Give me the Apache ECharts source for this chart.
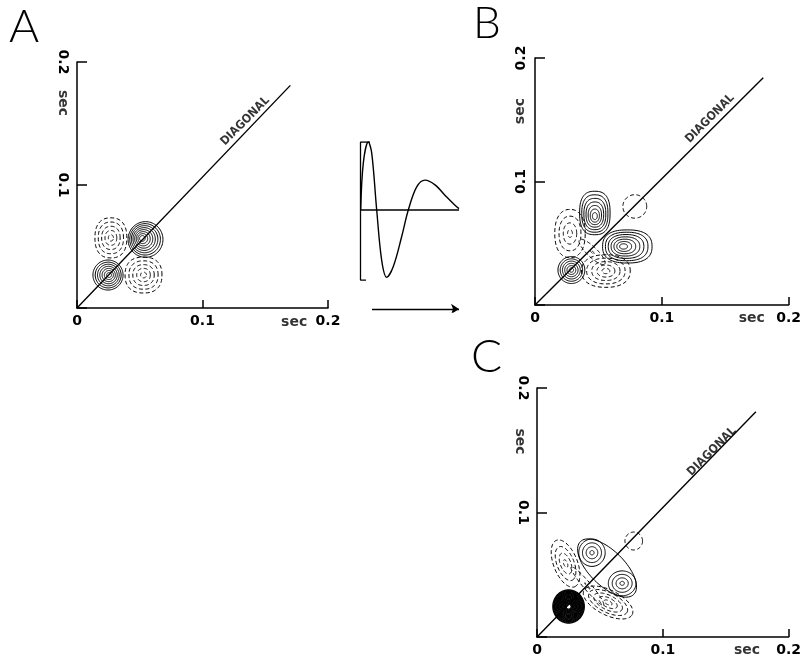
<!DOCTYPE html>
<html>
<head>
<meta charset="utf-8">
<script src="https://cdn.jsdelivr.net/npm/echarts@6/dist/echarts.min.js"></script>
<style>
  html, body { margin: 0; padding: 0; background: #fff; }
  #chart { width: 804px; height: 663px; }
</style>
</head>
<body>
<div id="chart"></div>
<script>
// tick values of the three kernel plots (sec)
const secTicks = [0, 0.1, 0.2];

// diagonal line of each panel
const diagonalA = [[0, 0], [0.170, 0.181]];
const diagonalB = [[0, 0], [0.180, 0.184]];
const diagonalC = [[0, 0], [0.174, 0.181]];

// contour blobs: cx, cy, rx, ry, rings, tilt(deg), shape exponent, inner dx, inner dy
const solidA = [
  [0.0546, 0.0557, 0.0139, 0.0145, 8, 0, 2, -0.003, 0.001],
  [0.0247, 0.0268, 0.0120, 0.0122, 7, 0, 2, 0.001, 0]
];
const dashedA = [
  [0.0270, 0.0570, 0.0127, 0.0163, 5, 0, 2.4, 0, 0],
  [0.0530, 0.0268, 0.0147, 0.0146, 5, 0, 2.4, 0, 0]
];
const solidB = [
  [0.0472, 0.0745, 0.0120, 0.0176, 7, 0, 2.6, 0, -0.003],
  [0.0728, 0.0474, 0.0195, 0.0134, 7, 0, 2.5, -0.0035, 0],
  [0.0287, 0.0283, 0.0106, 0.0109, 6, 0, 2, 0, 0]
];
const dashedB = [
  [0.0787, 0.0798, 0.0094, 0.0095, 1, 0, 2, 0, 0],
  [0.0276, 0.0579, 0.0120, 0.0195, 4, 0, 2.3, 0, 0],
  [0.0559, 0.0275, 0.0192, 0.0132, 5, 0, 2.3, 0, 0],
  [0.0450, 0.0430, 0.0140, 0.0040, 2, -45, 2, 0, 0]
];
const solidC = [
  [0.0557, 0.0554, 0.0300, 0.0140, 1, -45, 2, 0, 0],
  [0.0437, 0.0677, 0.0105, 0.0110, 4, 0, 2, 0, 0],
  [0.0677, 0.0431, 0.0110, 0.0100, 4, 0, 2, 0, 0]
];
const blackC = [
  [0.0251, 0.0245, 0.0125, 0.0133, 18, 0, 2, 0, 0]
];
const dashedC = [
  [0.0769, 0.0771, 0.0070, 0.0072, 1, 0, 2, 0, 0],
  [0.0227, 0.0590, 0.0200, 0.0095, 4, -69, 2, 0, 0],
  [0.0565, 0.0277, 0.0215, 0.0100, 5, -27, 2, 0, 0],
  [0.0400, 0.0410, 0.0200, 0.0030, 2, -50, 2, 0, 0]
];

// impulse response in the middle inset (arbitrary units)
const waveT = [5.7, 8.3, 13.3, 16.7, 21.7, 26.7, 31.7, 38.3, 46.7, 53.3, 61.7, 70, 80, 91.7, 100, 104];
const waveV = [0, 0.69, 1.0, 0.84, 0, -0.74, -0.99, -0.83, -0.39, 0, 0.34, 0.44, 0.37, 0.19, 0.07, 0.02];
const baseT = [5.5, 104];
const baseV = [0, 0];
const bracketT = [15, 5.5, 5.5, 11];
const bracketV = [1, 1, -1.03, -1.03];
const arrowT = [17, 104];
const arrowV = [-1.456, -1.456];

const ink = '#000';
const font = 'DejaVu Sans';

const zip = (a, b) => a.map((v, i) => [v, b[i]]);

function secAxisX(idx) {
  return {
    type: 'value', gridIndex: idx, min: 0, max: 0.2, interval: 0.1,
    axisLine: { lineStyle: { color: ink, width: 1.5 } },
    axisTick: { inside: true, length: 8, lineStyle: { color: ink, width: 1.5 } },
    splitLine: { show: false },
    axisLabel: {
      margin: 6, color: ink, fontSize: 14, fontFamily: font, fontWeight: 'bold',
      formatter: v => secTicks.indexOf(v) === 0 ? '0' : v.toFixed(1)
    }
  };
}

function secAxisY(idx, rot) {
  return {
    type: 'value', gridIndex: idx, min: 0, max: 0.2, interval: 0.1,
    axisLine: { lineStyle: { color: ink, width: 1.5 } },
    axisTick: { inside: true, length: 10, lineStyle: { color: ink, width: 1.5 } },
    splitLine: { show: false },
    axisLabel: {
      margin: 7, rotate: rot, color: ink, fontSize: 14, fontFamily: font, fontWeight: 'bold',
      formatter: v => v === 0 ? '' : v.toFixed(1)
    }
  };
}

function contours(blobs, idx, dashed, lw) {
  return {
    type: 'custom', xAxisIndex: idx, yAxisIndex: idx, silent: true,
    dimensions: ['cx', 'cy', 'rx', 'ry', 'n', 'tilt', 'p', 'dx', 'dy'],
    encode: { x: 0, y: 1 },
    data: blobs,
    renderItem: function (params, api) {
      const cx = api.value(0), cy = api.value(1), rx = api.value(2), ry = api.value(3);
      const n = api.value(4), tilt = api.value(5) * Math.PI / 180, p = api.value(6);
      const dx = api.value(7), dy = api.value(8);
      const rings = [];
      for (let k = 0; k < n; k++) {
        const s = n === 1 ? 1 : 0.16 + 0.84 * k / (n - 1);
        // inner rings get rounder
        const pe = 2 + (p - 2) * s;
        const ox = cx + dx * (1 - s), oy = cy + dy * (1 - s);
        const pts = [];
        for (let i = 0; i < 80; i++) {
          const t = i / 80 * Math.PI * 2;
          const c = Math.cos(t), sn = Math.sin(t);
          const ex = rx * s * Math.sign(c) * Math.pow(Math.abs(c), 2 / pe);
          const ey = ry * s * Math.sign(sn) * Math.pow(Math.abs(sn), 2 / pe);
          pts.push(api.coord([
            ox + ex * Math.cos(tilt) - ey * Math.sin(tilt),
            oy + ex * Math.sin(tilt) + ey * Math.cos(tilt)
          ]));
        }
        rings.push({
          type: 'polygon', shape: { points: pts },
          style: { fill: 'none', stroke: ink, lineWidth: lw, lineDash: dashed ? [4, 2.5] : null }
        });
      }
      return { type: 'group', children: rings };
    }
  };
}

function diagonal(line, idx) {
  return {
    type: 'line', xAxisIndex: idx, yAxisIndex: idx, data: line, showSymbol: false,
    silent: true, lineStyle: { color: ink, width: 1.4 }
  };
}

// "sec" captions and the DIAGONAL tag, anchored in data space
function captions(idx, xs, ys, diag, rotY) {
  const txt = (name, value, rotate, size, fam) => ({
    name, value,
    label: { show: true, position: 'inside', rotate, fontSize: size, fontFamily: fam, fontWeight: 'bold', color: ink }
  });
  return {
    type: 'scatter', xAxisIndex: idx, yAxisIndex: idx, clip: false, silent: true,
    symbolSize: 1, itemStyle: { color: 'rgba(0,0,0,0)' },
    label: { formatter: '{b}' },
    data: [
      txt('sec', xs, 0, 14, font),
      txt('sec', ys, rotY, 14, font),
      txt('DIAGONAL', diag, 45, 12, 'Liberation Sans Narrow, DejaVu Sans Condensed, sans-serif')
    ]
  };
}

const chart = echarts.init(document.getElementById('chart'));
chart.setOption({
  backgroundColor: '#fff',
  animation: false,
  graphic: [
    { type: 'text', left: 9, top: 4, style: { text: 'A', fontSize: 46, fontFamily: 'Lato', fontWeight: 300, fill: ink } },
    { type: 'text', left: 473, top: 2, style: { text: 'B', fontSize: 44, fontFamily: 'Lato', fontWeight: 300, fill: ink } },
    { type: 'text', left: 471, top: 334, style: { text: 'C', fontSize: 46, fontFamily: 'Lato', fontWeight: 300, fill: ink } }
  ],
  grid: [
    { left: 77, top: 62, width: 251, height: 246 },
    { left: 535, top: 58, width: 254, height: 247 },
    { left: 537, top: 388, width: 255, height: 249 },
    { left: 355, top: 142, width: 105, height: 170 }
  ],
  xAxis: [
    secAxisX(0), secAxisX(1), secAxisX(2),
    { type: 'value', gridIndex: 3, min: 0, max: 105, show: false }
  ],
  yAxis: [
    secAxisY(0, -90), secAxisY(1, 90), secAxisY(2, -90),
    { type: 'value', gridIndex: 3, min: -1.5, max: 1, show: false }
  ],
  series: [
    diagonal(diagonalA, 0),
    contours(solidA, 0, false, 1),
    contours(dashedA, 0, true, 1),
    captions(0, [0.173, -0.0114], [-0.0112, 0.1667], [0.134, 0.152], -90),

    diagonal(diagonalB, 1),
    contours(solidB, 1, false, 1),
    contours(dashedB, 1, true, 1),
    captions(1, [0.171, -0.0105], [-0.0118, 0.157], [0.138, 0.151], 90),

    diagonal(diagonalC, 2),
    contours(solidC, 2, false, 1),
    contours(blackC, 2, false, 1.3),
    contours(dashedC, 2, true, 1),
    captions(2, [0.167, -0.0104], [-0.0141, 0.157], [0.139, 0.149], -90),

    { type: 'line', xAxisIndex: 3, yAxisIndex: 3, data: zip(baseT, baseV), showSymbol: false, lineStyle: { color: ink, width: 1.3 } },
    { type: 'line', xAxisIndex: 3, yAxisIndex: 3, data: zip(bracketT, bracketV), showSymbol: false, lineStyle: { color: ink, width: 1.3 } },
    { type: 'line', xAxisIndex: 3, yAxisIndex: 3, data: zip(waveT, waveV), smooth: 0.35, showSymbol: false, lineStyle: { color: ink, width: 1.4 } },
    {
      type: 'lines', coordinateSystem: 'cartesian2d', xAxisIndex: 3, yAxisIndex: 3,
      symbol: ['none', 'arrow'], symbolSize: 8,
      lineStyle: { color: ink, width: 1.3, opacity: 1 },
      data: [{ coords: zip(arrowT, arrowV) }]
    }
  ]
});
</script>
</body>
</html>
